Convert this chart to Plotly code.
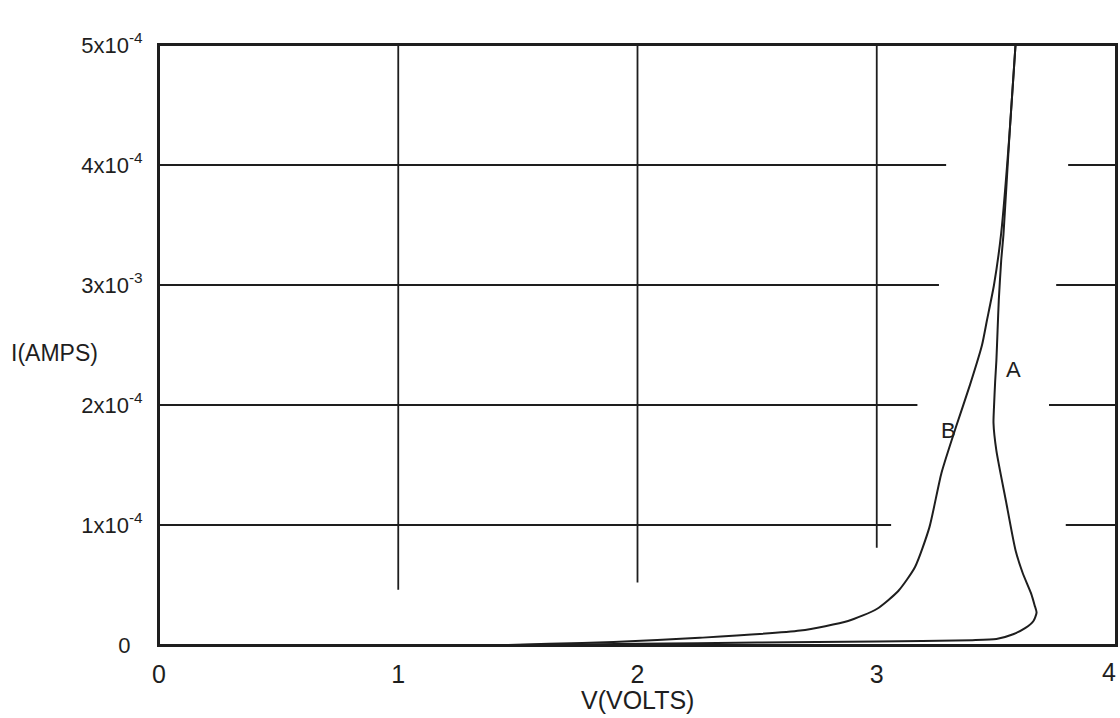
import plotly.graph_objects as go

# Axis ticks (the last x label sits against the page edge, placed separately)
x_ticks = [0, 1, 2, 3, 4]
x_tick_labels = ["0", "1", "2", "3", ""]
x_edge_label = ("4", 4)
y_ticks = [0, 1e-4, 2e-4, 3e-4, 4e-4, 5e-4]
y_tick_labels = ["0&nbsp;&nbsp;", "1x10<sup>-4</sup>", "2x10<sup>-4</sup>",
                 "3x10<sup>-3</sup>", "4x10<sup>-4</sup>", "5x10<sup>-4</sup>"]

# Curve A: voltage (V) and current (A)
a_volts = [0.0, 1.5, 2.0, 2.5, 3.0, 3.4, 3.5, 3.57, 3.62, 3.655, 3.668, 3.66,
           3.645, 3.61, 3.58, 3.54, 3.50, 3.488, 3.49, 3.495, 3.50, 3.505,
           3.51, 3.52, 3.53, 3.555, 3.58]
a_amps = [0.0, 0.0, 0.01e-4, 0.02e-4, 0.03e-4, 0.04e-4, 0.05e-4, 0.09e-4,
          0.14e-4, 0.2e-4, 0.27e-4, 0.33e-4, 0.43e-4, 0.6e-4, 0.79e-4,
          1.2e-4, 1.62e-4, 1.85e-4, 1.98e-4, 2.2e-4, 2.37e-4, 2.62e-4,
          2.87e-4, 3.2e-4, 3.43e-4, 4.26e-4, 5.0e-4]

# Curve B: voltage (V) and current (A)
b_volts = [1.45, 1.63, 1.9, 2.26, 2.68, 2.88, 3.0, 3.09, 3.16, 3.22, 3.27,
           3.33, 3.39, 3.44, 3.46, 3.49, 3.52, 3.555, 3.58]
b_amps = [0.0, 0.01e-4, 0.025e-4, 0.06e-4, 0.12e-4, 0.2e-4, 0.3e-4, 0.45e-4,
          0.65e-4, 0.98e-4, 1.43e-4, 1.81e-4, 2.17e-4, 2.5e-4, 2.7e-4,
          3.0e-4, 3.43e-4, 4.26e-4, 5.0e-4]

# Curve labels: (text, volts, amps)
curve_labels = [("A", 3.57, 2.30e-4), ("B", 3.30, 1.79e-4)]

# Hand-drawn grid segments, broken where the curves pass
v_grid = [(1, 0.46e-4, 5e-4), (2, 0.52e-4, 5e-4), (3, 0.81e-4, 5e-4)]
h_grid = [(4e-4, 0, 3.29), (4e-4, 3.80, 4), (3e-4, 0, 3.26), (3e-4, 3.75, 4),
          (2e-4, 0, 3.17), (2e-4, 3.72, 4), (1e-4, 0, 3.06), (1e-4, 3.79, 4)]

INK = "#1e1e1e"
FONT = "Liberation Sans"

fig = go.Figure()
for xs, ys in [(a_volts, a_amps), (b_volts, b_amps)]:
    fig.add_trace(go.Scatter(x=xs, y=ys, mode="lines",
                             line=dict(color=INK, width=2, shape="spline",
                                       smoothing=0.6),
                             showlegend=False, hoverinfo="skip"))

shapes = []
for xv, y0, y1 in v_grid:
    shapes.append(dict(type="line", xref="x", yref="y", x0=xv, x1=xv,
                       y0=y0, y1=y1, line=dict(color=INK, width=1.8)))
for yv, x0, x1 in h_grid:
    shapes.append(dict(type="line", xref="x", yref="y", x0=x0, x1=x1,
                       y0=yv, y1=yv, line=dict(color=INK, width=1.8)))
# Frame around the plotting area
shapes.append(dict(type="rect", xref="paper", yref="paper", x0=0, x1=1,
                   y0=0, y1=1, line=dict(color=INK, width=2), layer="above"))

annotations = [dict(text=t, x=xv, y=yv, xref="x", yref="y", showarrow=False,
                    font=dict(family=FONT, size=22, color=INK))
               for t, xv, yv in curve_labels]
annotations.append(dict(text=x_edge_label[0], x=x_edge_label[1], y=-0.045,
                        xref="x", yref="paper", xanchor="right",
                        yanchor="middle", xshift=2, showarrow=False,
                        font=dict(family=FONT, size=25, color=INK)))
annotations.append(dict(text="I(AMPS)", x=-0.157, y=2.43e-4, xref="paper",
                        yref="y", xanchor="left", yanchor="middle",
                        showarrow=False,
                        font=dict(family=FONT, size=23, color=INK)))
annotations.append(dict(text="V(VOLTS)", x=2.0, y=-0.092, xref="x",
                        yref="paper", xanchor="center", yanchor="middle",
                        showarrow=False,
                        font=dict(family=FONT, size=25, color=INK)))

fig.update_layout(
    width=1120, height=718,
    margin=dict(l=159, r=4, t=45, b=73),
    paper_bgcolor="white", plot_bgcolor="white",
    shapes=shapes, annotations=annotations,
    font=dict(family=FONT, color=INK),
    xaxis=dict(range=[0, 4], tickvals=x_ticks, ticktext=x_tick_labels,
               showgrid=False, zeroline=False, showline=True, mirror=True,
               linecolor=INK, linewidth=2, ticks="", ticklabelstandoff=6,
               automargin=False,
               tickfont=dict(family=FONT, size=25, color=INK)),
    yaxis=dict(range=[0, 5e-4], tickvals=y_ticks, ticktext=y_tick_labels,
               showgrid=False, zeroline=False, showline=True, mirror=True,
               linecolor=INK, linewidth=2, ticks="", ticklabelstandoff=10,
               automargin=False,
               tickfont=dict(family=FONT, size=22, color=INK)),
)

fig.write_html("out.html")
